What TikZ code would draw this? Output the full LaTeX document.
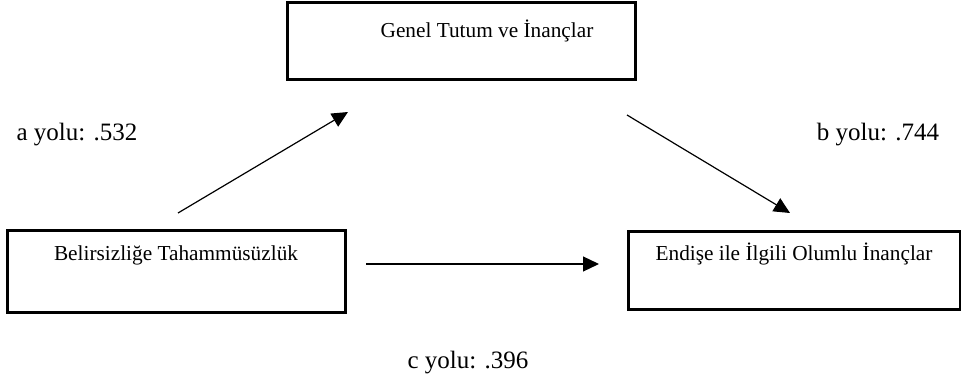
\documentclass[tikz,border=0pt]{standalone}
\usepackage{fontspec}
\setmainfont{Liberation Serif}
\usetikzlibrary{arrows.meta}
\tikzset{
  boxnode/.style={draw=black, line width=3pt, fill=none, inner sep=0pt},
  boxtext/.style={font=\fontsize{21.3}{25}\selectfont, inner sep=0pt, anchor=base},
  pathlabel/.style={font=\fontsize{25}{29}\selectfont, inner sep=0pt, anchor=base},
  conn/.style={line width=1.2pt, -{Triangle[length=16pt,width=15pt]}}
}
\begin{document}
\begin{tikzpicture}[x=1pt,y=1pt]
\useasboundingbox (0,0) rectangle (961,386);
% boxes
\node[boxnode, minimum width=348, minimum height=77] (top) at (461,344.5) {};
\node[boxnode, minimum width=338, minimum height=82] (left) at (176,115) {};
\node[boxnode, minimum width=332, minimum height=78] (right) at (794,116) {};
% box texts
\node[boxtext] (toptxt) at (487,348) {Genel Tutum ve İnançlar};
\node[boxtext] (lefttxt) at (176,126) {Belirsizliğe Tahammüsüzlük};
\node[boxtext] (righttxt) at (794,126) {Endişe ile İlgili Olumlu İnançlar};
% path labels
\node[pathlabel] (la) at (77,245) {a yolu: .532};
\node[pathlabel] (lb) at (878,245) {b yolu: .744};
\node[pathlabel] (lc) at (468,18) {c yolu: .396};
% connector ends
\coordinate (a1) at (178,173);
\coordinate (a2) at (348,274);
\coordinate (b1) at (627,271);
\coordinate (b2) at (790,173);
\coordinate (c1) at (366,122);
\coordinate (c2) at (599,122);
\draw[conn] (a1) -- (a2);
\draw[conn] (b1) -- (b2);
\draw[conn] (c1) -- (c2);
\end{tikzpicture}
\end{document}
